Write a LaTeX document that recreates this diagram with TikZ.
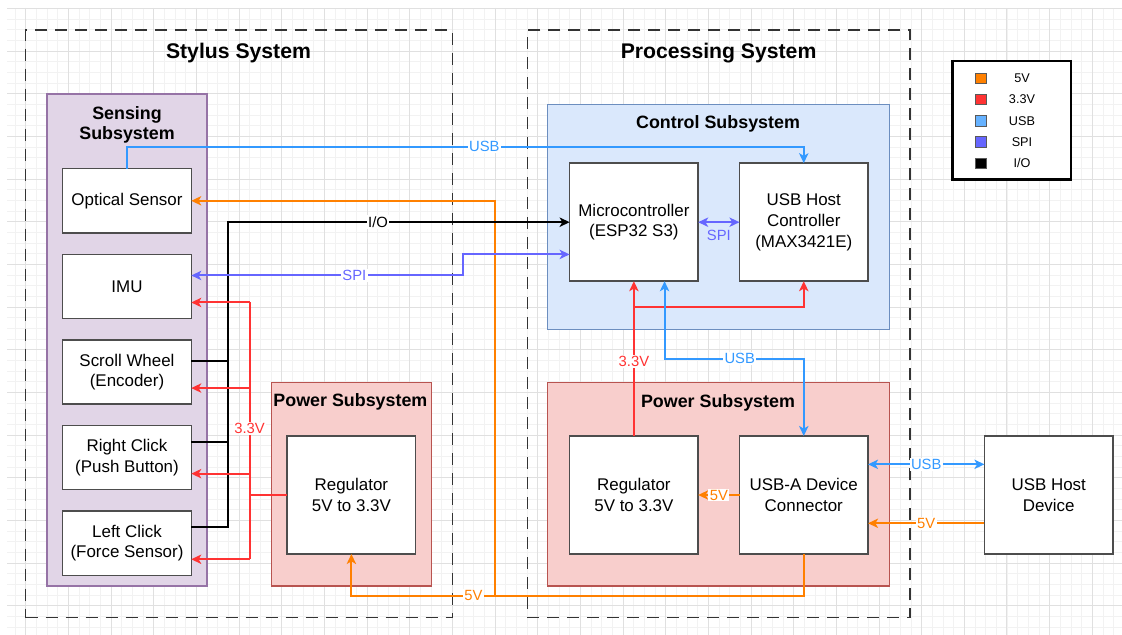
\documentclass[tikz,border=0pt]{standalone}
\usepackage{fontspec}
\setmainfont{Liberation Sans}
\usepackage{xcolor}
\usepackage{tikz}
\usetikzlibrary{arrows.meta, positioning, calc}

% signal colours
\definecolor{c5v}{HTML}{FF8000}
\definecolor{c33}{HTML}{FF3333}
\definecolor{cusb}{HTML}{3399FF}
\definecolor{cusblt}{HTML}{66B2FF}
\definecolor{cspi}{HTML}{6666FF}
% subsystem colours
\definecolor{sensefill}{HTML}{E1D5E7}
\definecolor{senseline}{HTML}{9673A6}
\definecolor{powfill}{HTML}{F8CECC}
\definecolor{powline}{HTML}{B85450}
\definecolor{ctrlfill}{HTML}{DAE8FC}
\definecolor{ctrlline}{HTML}{6C8EBF}
\definecolor{boxline}{HTML}{4D4D4D}

\tikzset{
    gridminor/.style={black!5, line width=0.5pt},
    gridmajor/.style={black!12, line width=0.6pt},
    sysbox/.style={rectangle, draw=black!80, dash pattern=on 9pt off 6pt, line width=1.1pt, inner sep=0pt},
    systitle/.style={font=\fontsize{15.9}{19}\selectfont\bfseries},
    grp/.style={rectangle, line width=0.8pt, inner sep=0pt},
    grptitle/.style={font=\fontsize{13.4}{15.5}\selectfont\bfseries, align=center},
    blk/.style={rectangle, draw=boxline, fill=white, line width=1.1pt, align=center, inner sep=0pt,
        outer sep=0pt, minimum width=96.4pt, font=\fontsize{12.7}{15.5}\selectfont},
    sensor/.style={blk, minimum height=48.2pt},
    unit/.style={blk, minimum height=88.5pt},
    wire/.style={line width=1.5pt},
    v5/.style={wire, color=c5v},
    v33/.style={wire, color=c33},
    usb/.style={wire, color=cusb},
    spi/.style={wire, color=cspi},
    io/.style={wire, color=black},
    lbl/.style={fill=white, inner sep=1pt, font=\fontsize{11.1}{13}\selectfont},
    legsq/.style={rectangle, draw=black!65, line width=0.6pt, minimum size=8pt, inner sep=0pt},
    legtxt/.style={font=\fontsize{9.5}{11}\selectfont}
}

\begin{document}
\begin{tikzpicture}[x=0.75pt, y=-0.75pt, >={Stealth[length=7.5pt,width=7pt,inset=2pt]}]
    \useasboundingbox (0,0) rectangle (1122,635);

    % Background grid
    \foreach \i in {0,...,103} \draw[gridminor] ({15.03+10.665*\i},8) -- ({15.03+10.665*\i},635);
    \foreach \i in {0,...,58} \draw[gridminor] (7,{8.4+10.665*\i}) -- (1122,{8.4+10.665*\i});
    \foreach \i in {0,...,25} \draw[gridmajor] ({25.7+42.66*\i},8) -- ({25.7+42.66*\i},635);
    \foreach \i in {0,...,14} \draw[gridmajor] (7,{8.4+42.66*\i}) -- (1122,{8.4+42.66*\i});

    % System frames
    \node[sysbox, minimum width=320.1pt, minimum height=440.8pt] (stylus) at (239.1,323.85) {};
    \node[sysbox, minimum width=286.9pt, minimum height=440.8pt] (proc) at (718.75,323.85) {};
    \node[systitle] (stylustitle) at (238.5,53.2) {Stylus System};
    \node[systitle] (proctitle) at (718.6,53.2) {Processing System};

    % Subsystem groups
    \node[grp, draw=senseline, fill=sensefill, minimum width=120pt, minimum height=369pt] (sensing) at (127,340) {};
    \node[grp, draw=powline, fill=powfill, minimum width=120pt, minimum height=152.5pt] (lpower) at (351.4,484.3) {};
    \node[grp, draw=ctrlline, fill=ctrlfill, minimum width=256pt, minimum height=168.75pt] (ctrl) at (718.6,216.8) {};
    \node[grp, draw=powline, fill=powfill, minimum width=256pt, minimum height=152.5pt] (rpower) at (718.6,484.3) {};
    \node[grptitle] (sensetitle) at (127,125) {Sensing\\Subsystem};
    \node[grptitle] (lpowtitle) at (350.4,402) {Power Subsystem};
    \node[grptitle] (ctrltitle) at (718,123.7) {Control Subsystem};
    \node[grptitle] (rpowtitle) at (718,403) {Power Subsystem};

    % Sensing blocks
    \node[sensor] (opt) at (127,200.8) {Optical Sensor};
    \node[sensor, below=16pt of opt] (imu) {IMU};
    \node[sensor, below=16pt of imu] (scroll) {Scroll Wheel\\(Encoder)};
    \node[sensor, below=16pt of scroll] (rclick) {Right Click\\(Push Button)};
    \node[sensor, below=16pt of rclick] (lclick) {Left Click\\(Force Sensor)};

    % Power and control blocks
    \node[unit] (lreg) at (351.4,495) {Regulator\\5V to 3.3V};
    \node[unit] (mcu) at (633.9,222.2) {Microcontroller\\(ESP32 S3)};
    \node[unit, right=31pt of mcu] (usbhc) {USB Host\\Controller\\(MAX3421E)};
    \node[unit] (rreg) at (633.9,495) {Regulator\\5V to 3.3V};
    \node[unit, right=31pt of rreg] (usba) {USB-A Device\\Connector};
    \node[unit, right=87.3pt of usba] (hostdev) {USB Host\\Device};

    % 5V rail
    \coordinate (j5) at (494.6,595.7);
    \draw[v5, ->] (usba.south) -- (usba.south |- j5) -- node[lbl, pos=.73]{5V} (lreg.south |- j5) -- (lreg.south);
    \draw[v5, ->] (j5) |- (opt.east);
    \draw[v5, ->] (usba.west) -- node[lbl]{5V} (rreg.east);
    \draw[v5, ->] ([yshift=-21.2pt]hostdev.west) -- node[lbl]{5V} ([yshift=-21.2pt]usba.east);

    % I/O lines
    \coordinate (iobus) at (227.5,222.2);
    \draw[io, ->] ($(lclick.north east)!.25!(lclick.south east)$) -| (iobus) -- node[lbl, pos=.44]{I/O} (mcu.west);
    \draw[io] ($(rclick.north east)!.25!(rclick.south east)$) -- +(36.5,0);
    \draw[io] ($(scroll.north east)!.33!(scroll.south east)$) -- +(36.5,0);

    % SPI links
    \draw[spi, <->] ($(imu.north east)!.33!(imu.south east)$) -- node[lbl, pos=.6]{SPI} ++(271.9,0)
        |- ($(mcu.north west)!.773!(mcu.south west)$);
    \draw[spi, <->] (mcu.east) -- node[lbl, fill=none, below=4.5pt]{SPI} (usbhc.west);

    % 3.3V rail, stylus side
    \coordinate (imuR) at ($(imu.north east)!.75!(imu.south east)$);
    \coordinate (scrollR) at ($(scroll.north east)!.75!(scroll.south east)$);
    \coordinate (rclickR) at ($(rclick.north east)!.75!(rclick.south east)$);
    \coordinate (lclickR) at ($(lclick.north east)!.75!(lclick.south east)$);
    \coordinate (rbus) at (249.5,495);
    \draw[v33] (lreg.west) -- (rbus);
    \draw[v33] (rbus |- imuR) -- node[lbl, pos=.49]{3.3V} (rbus |- lclickR);
    \foreach \n in {imuR, scrollR, rclickR, lclickR} \draw[v33, ->] (rbus |- \n) -- (\n);

    % 3.3V rail, processing side
    \coordinate (rsplit) at (633.9,306.7);
    \draw[v33, ->] (rreg.north) -- node[lbl, pos=.48]{3.3V} (mcu.south);
    \draw[v33, ->] (rsplit) -| (usbhc.south);

    % USB links
    \draw[usb, ->] (opt.north) -- ++(0,-22) -| node[lbl, pos=.264]{USB} (usbhc.north);
    \draw[usb, <->] ([xshift=23pt]mcu.south) -- ++(0,77.3) -| node[lbl, pos=.27]{USB} (usba.north);
    \draw[usb, <->] ([yshift=23pt]usba.east) -- node[lbl]{USB} ([yshift=23pt]hostdev.west);

    % Legend
    \node[rectangle, draw=black, line width=1.8pt, fill=white, minimum size=88.7pt] (legend) at (1011.8,120.2) {};
    \foreach \c/\t [count=\i from 0] in {c5v/5V, c33/3.3V, cusblt/USB, cspi/SPI, black/{I/O}} {
        \node[legsq, fill=\c] (sq\i) at (981,{78.3+21.25*\i}) {};
        \node[legtxt] (lt\i) at (1022,{78.3+21.25*\i}) {\t};
    }
\end{tikzpicture}
\end{document}
